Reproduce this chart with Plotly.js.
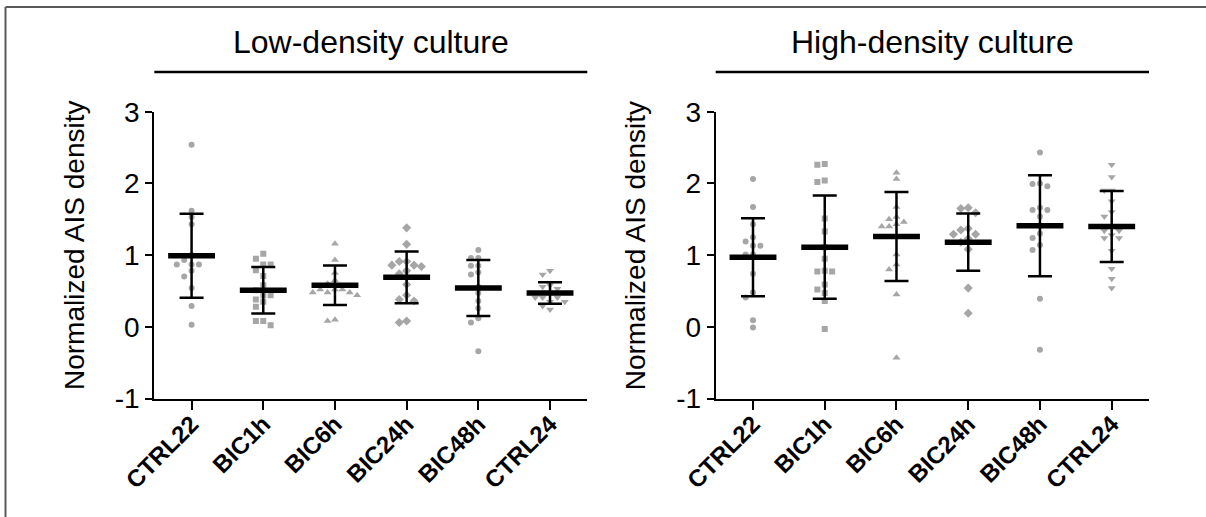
<!DOCTYPE html>
<html>
<head>
<meta charset="utf-8">
<script src="https://cdn.plot.ly/plotly-3.0.1.min.js"></script>
<style>html,body{margin:0;padding:0;background:#fff;}#chart{width:1206px;height:517px;}</style>
</head>
<body>
<div id="chart"></div>
<script>
// ---------- data ----------
const categories = ['CTRL22', 'BIC1h', 'BIC6h', 'BIC24h', 'BIC48h', 'CTRL24'];
const yTickValues = [-1, 0, 1, 2, 3];
const yTickLabels = ['-1', '0', '1', '2', '3'];
const panelTitles = ['Low-density culture', 'High-density culture'];
const yAxisTitle = 'Normalized AIS density';

// Low-density culture: individual values
const lowCTRL22 = [2.54, 1.62, 1.53, 1.43, 1.00, 0.93, 0.87, 0.87, 0.87, 0.78, 0.70, 0.54, 0.29, 0.03];
const lowBIC1h  = [1.02, 0.95, 0.87, 0.87, 0.79, 0.71, 0.58, 0.51, 0.44, 0.44, 0.38, 0.35, 0.28, 0.08, 0.08, 0.02];
const lowBIC6h  = [1.16, 0.93, 0.75, 0.65, 0.60, 0.52, 0.52, 0.52, 0.48, 0.48, 0.48, 0.44, 0.10, 0.08];
const lowBIC24h = [1.38, 1.15, 0.91, 0.91, 0.86, 0.86, 0.84, 0.78, 0.74, 0.69, 0.59, 0.44, 0.38, 0.36, 0.08, 0.06];
const lowBIC48h = [1.07, 0.96, 0.96, 0.85, 0.85, 0.76, 0.73, 0.56, 0.47, 0.36, 0.26, 0.12, 0.06, -0.34];
const lowCTRL24 = [0.78, 0.73, 0.58, 0.56, 0.53, 0.47, 0.41, 0.41, 0.41, 0.35, 0.35, 0.29, 0.24];
const lowMean = [0.99, 0.51, 0.58, 0.69, 0.54, 0.47];
const lowSD   = [0.585, 0.325, 0.275, 0.36, 0.39, 0.15];

// High-density culture: individual values
const highCTRL22 = [2.06, 1.67, 1.43, 1.25, 1.19, 1.13, 1.13, 1.01, 1.01, 0.74, 0.48, 0.41, 0.09, -0.01];
const highBIC1h  = [2.27, 2.26, 2.04, 2.02, 1.51, 1.33, 1.11, 0.95, 0.78, 0.77, 0.77, 0.59, 0.52, 0.47, 0.36, -0.03];
const highBIC6h  = [2.15, 2.06, 1.67, 1.53, 1.50, 1.46, 1.43, 1.40, 1.40, 1.26, 1.01, 0.87, 0.80, 0.45, -0.43];
const highBIC24h = [1.66, 1.65, 1.59, 1.37, 1.35, 1.29, 1.29, 1.23, 1.18, 1.08, 0.54, 0.19];
const highBIC48h = [2.43, 2.00, 1.99, 1.96, 1.66, 1.63, 1.63, 1.54, 1.41, 1.30, 1.24, 1.14, 1.07, 0.39, -0.32];
const highCTRL24 = [2.26, 2.09, 1.90, 1.90, 1.75, 1.60, 1.54, 1.40, 1.34, 1.34, 1.28, 1.24, 1.24, 1.06, 0.81, 0.67, 0.54];
const highMean = [0.97, 1.11, 1.26, 1.18, 1.41, 1.40];
const highSD   = [0.545, 0.72, 0.62, 0.40, 0.705, 0.495];

const lowGroups  = [lowCTRL22, lowBIC1h, lowBIC6h, lowBIC24h, lowBIC48h, lowCTRL24];
const highGroups = [highCTRL22, highBIC1h, highBIC6h, highBIC24h, highBIC48h, highCTRL24];

// ---------- style ----------
const FONT = 'Liberation Sans, Arial, Helvetica, sans-serif';
const symbols = ['circle', 'square', 'triangle-up', 'diamond', 'circle', 'triangle-down'];
const symSize = [6, 6, 7, 7, 6, 7];
const pointColor = '#a6a6a6';

// simple deterministic beeswarm: spread points that would overlap
function swarm(vals) {
  const pxPerY = 71.7, stepPx = 7.4, minD = 6.2, stepX = 0.103;
  const order = vals.map((v, i) => i).sort((a, b) => vals[b] - vals[a]);
  const placed = [];
  const off = new Array(vals.length).fill(0);
  const lanes = [0, -1, 1, -2, 2, -3, 3, -4, 4];
  for (const i of order) {
    for (const k of lanes) {
      const ok = placed.every(p => {
        const dx = (p.k - k) * stepPx, dy = (p.v - vals[i]) * pxPerY;
        return Math.sqrt(dx * dx + dy * dy) >= minD;
      });
      if (ok) { placed.push({k: k, v: vals[i]}); off[i] = k * stepX; break; }
    }
  }
  return off;
}

const traces = [];
function addPanel(groups, means, sds, xa, ya) {
  groups.forEach((vals, gi) => {
    const off = swarm(vals);
    traces.push({
      type: 'scatter', mode: 'markers', xaxis: xa, yaxis: ya,
      x: vals.map((v, j) => gi + off[j]), y: vals,
      marker: {symbol: symbols[gi], size: symSize[gi], color: pointColor, line: {width: 0}},
      hoverinfo: 'y', showlegend: false
    });
  });
  traces.push({
    type: 'scatter', mode: 'markers', xaxis: xa, yaxis: ya,
    x: categories.map((c, i) => i), y: means,
    error_y: {type: 'data', array: sds, visible: true, width: 12, thickness: 2.5, color: '#000'},
    marker: {symbol: 'line-ew', size: 33.5, color: '#000', line: {width: 5.5, color: '#000'}},
    hoverinfo: 'y', showlegend: false
  });
}
addPanel(lowGroups, lowMean, lowSD, 'x', 'y');
addPanel(highGroups, highMean, highSD, 'x2', 'y2');

const W = 1206, H = 517;
const yDom = [1 - 398.5 / H, 1 - 111.7 / H];
function xAxis(dom, anchor) {
  return {
    domain: dom, anchor: anchor, range: [-0.52, 5.52],
    tickmode: 'array', tickvals: categories.map((c, i) => i), ticktext: categories,
    tickangle: -45, ticks: 'outside', ticklen: 9, tickwidth: 2, tickcolor: '#000',
    ticklabelstandoff: -9,
    showline: true, linewidth: 2, linecolor: '#000', showgrid: false, zeroline: false,
    tickfont: {family: FONT, size: 24, color: '#000', weight: 'bold'}, fixedrange: true
  };
}
function yAxis(anchor) {
  return {
    domain: yDom, anchor: anchor, range: [-1, 3],
    tickmode: 'array', tickvals: yTickValues, ticktext: yTickLabels,
    ticks: 'outside', ticklen: 7, tickwidth: 2, tickcolor: '#000',
    showline: true, linewidth: 2, linecolor: '#000', showgrid: false, zeroline: false,
    tickfont: {family: FONT, size: 28, color: '#000'}, fixedrange: true
  };
}

const lineY = 1 - 72 / H;
const titleY = 1 - 42 / H;
const yTitleY = 1 - 246 / H;
const layout = {
  width: W, height: H, margin: {l: 0, r: 0, t: 0, b: 0},
  paper_bgcolor: '#fff', plot_bgcolor: '#fff', showlegend: false,
  font: {family: FONT, color: '#000'},
  xaxis: xAxis([154.3 / W, 587.3 / W], 'y'),
  yaxis: yAxis('x'),
  xaxis2: xAxis([715.7 / W, 1149 / W], 'y2'),
  yaxis2: yAxis('x2'),
  shapes: [
    {type: 'line', xref: 'x domain', yref: 'paper', x0: 0, x1: 1, y0: lineY, y1: lineY, line: {color: '#000', width: 2.5}},
    {type: 'line', xref: 'x2 domain', yref: 'paper', x0: 0, x1: 1, y0: lineY, y1: lineY, line: {color: '#000', width: 2.5}},
    {type: 'line', xref: 'paper', yref: 'paper', x0: 5.5 / W, x1: 1, y0: 1 - 7 / H, y1: 1 - 7 / H, line: {color: '#5a5a5a', width: 2}},
    {type: 'line', xref: 'paper', yref: 'paper', x0: 5.5 / W, x1: 5.5 / W, y0: 0, y1: 1 - 7 / H, line: {color: '#5a5a5a', width: 2}}
  ],
  annotations: [
    {text: panelTitles[0], xref: 'x domain', yref: 'paper', x: 0.5, y: titleY, showarrow: false, xanchor: 'center', yanchor: 'middle', font: {family: FONT, size: 32, color: '#000'}},
    {text: panelTitles[1], xref: 'x2 domain', yref: 'paper', x: 0.5, y: titleY, showarrow: false, xanchor: 'center', yanchor: 'middle', font: {family: FONT, size: 32, color: '#000'}},
    {text: yAxisTitle, xref: 'x domain', yref: 'paper', x: (75 - 154.3) / 433, y: yTitleY, textangle: -90, showarrow: false, xanchor: 'center', yanchor: 'middle', font: {family: FONT, size: 28, color: '#000'}},
    {text: yAxisTitle, xref: 'x2 domain', yref: 'paper', x: (75 - 154.3) / 433, y: yTitleY, textangle: -90, showarrow: false, xanchor: 'center', yanchor: 'middle', font: {family: FONT, size: 28, color: '#000'}}
  ]
};

Plotly.newPlot('chart', traces, layout, {displayModeBar: false, staticPlot: true});
</script>
</body>
</html>
